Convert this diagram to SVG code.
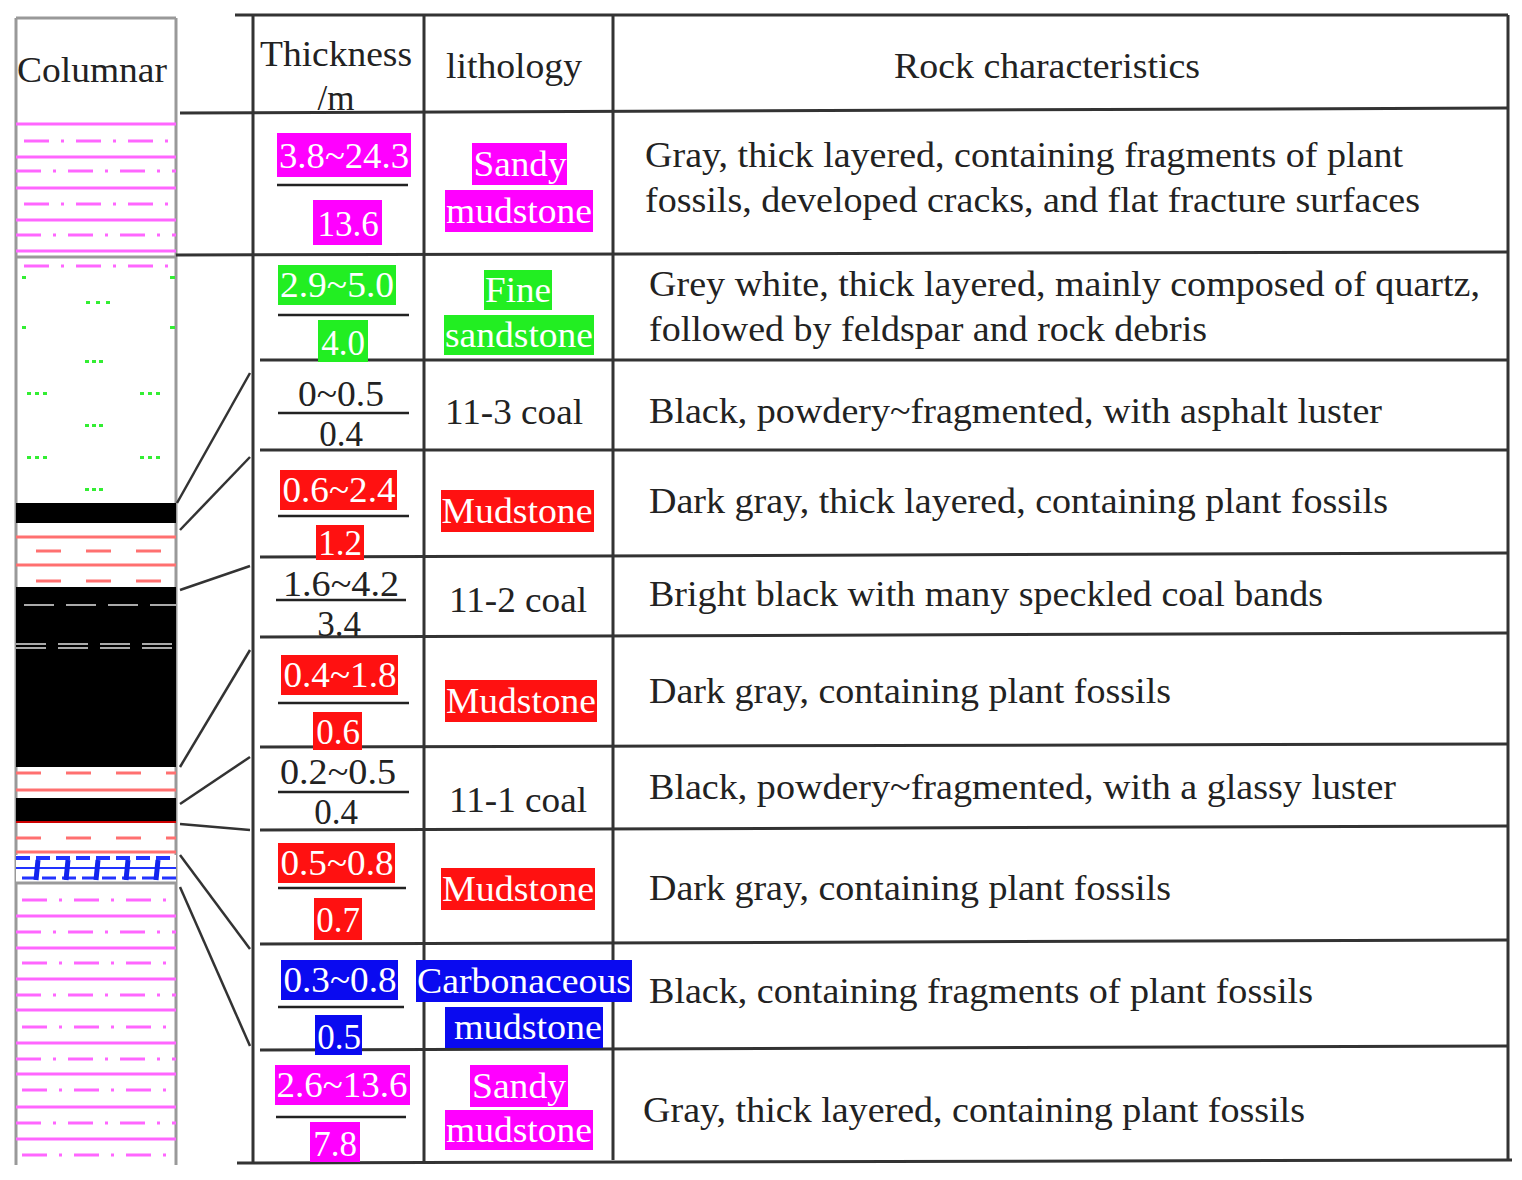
<svg xmlns="http://www.w3.org/2000/svg" width="1522" height="1180" viewBox="0 0 1522 1180">
<style>
text{font-family:"Liberation Serif","DejaVu Serif",serif;font-size:35px;fill:#222}
.w{fill:#fff}
.c{text-anchor:middle}
.g{stroke:#333;stroke-width:3;fill:none}
.lg{stroke:#999;stroke-width:3;fill:none}
.fr{stroke:#222;stroke-width:2.5}
.pk{stroke:#ff66ff;stroke-width:3}
.pkd{stroke:#ff66ff;stroke-width:3;stroke-dasharray:25 12 3 12}
.rd{stroke:#ff7070;stroke-width:3}
.rdd{stroke:#ff7070;stroke-width:3;stroke-dasharray:25 25}
.gd{stroke:#aaa;stroke-width:2;stroke-dasharray:30 12}
.gr{fill:#33ee33}
.cn{stroke:#333;stroke-width:2.5;fill:none}
</style>
<rect width="1522" height="1180" fill="#fff"/>
<g id="frame">
<line class="g" x1="235" y1="15" x2="1508" y2="15"/>
<line class="g" x1="180" y1="113" x2="1508" y2="108"/>
<line class="g" x1="237" y1="1163" x2="1512" y2="1160"/>
<line class="g" x1="1508" y1="15" x2="1508" y2="1160"/>
<line class="g" x1="253" y1="15" x2="253" y2="1163"/>
<line class="g" x1="424" y1="15" x2="424" y2="1163"/>
<line class="g" x1="613" y1="15" x2="613" y2="1160"/>
<line class="lg" x1="16" y1="18" x2="16" y2="1165"/>
<line class="lg" x1="176" y1="18" x2="176" y2="1165"/>
<line class="lg" x1="16" y1="18" x2="176" y2="18"/>
<line class="g" x1="176" y1="255" x2="1508" y2="252"/>
<line class="g" x1="260" y1="360" x2="1508" y2="360"/>
<line class="g" x1="260" y1="450" x2="1508" y2="450"/>
<line class="g" x1="260" y1="557" x2="1508" y2="553"/>
<line class="g" x1="260" y1="637" x2="1508" y2="633"/>
<line class="g" x1="260" y1="747" x2="1508" y2="744"/>
<line class="g" x1="260" y1="830" x2="1508" y2="826"/>
<line class="g" x1="260" y1="944" x2="1508" y2="940"/>
<line class="g" x1="260" y1="1050" x2="1508" y2="1046"/>
</g>
<g id="header">
<text x="92" y="82" class="c" textLength="150" lengthAdjust="spacingAndGlyphs">Columnar</text>
<text x="336" y="66" class="c" textLength="152" lengthAdjust="spacingAndGlyphs">Thickness</text>
<text x="336" y="110" class="c">/m</text>
<text x="514" y="78" class="c" textLength="136" lengthAdjust="spacingAndGlyphs">lithology</text>
<text x="1047" y="78" class="c" textLength="306" lengthAdjust="spacingAndGlyphs">Rock characteristics</text>
</g>
<g id="columnar">
<line class="pk" x1="16" y1="124" x2="176" y2="124"/>
<line class="pkd" x1="24" y1="141" x2="176" y2="141"/>
<line class="pk" x1="16" y1="157" x2="176" y2="157"/>
<line class="pkd" x1="16" y1="171" x2="176" y2="171"/>
<line class="pk" x1="16" y1="188" x2="176" y2="188"/>
<line class="pkd" x1="24" y1="204" x2="176" y2="204"/>
<line class="pk" x1="16" y1="220" x2="176" y2="220"/>
<line class="pkd" x1="16" y1="235" x2="176" y2="235"/>
<line class="pk" x1="16" y1="251" x2="176" y2="251"/>
<line class="lg" x1="16" y1="257" x2="176" y2="257"/>
<line class="pkd" x1="24" y1="266" x2="176" y2="266"/>
<g class="gr">
<rect x="22" y="276" width="4" height="3"/><rect x="170" y="276" width="5" height="3"/>
<rect x="86" y="301" width="4" height="3"/><rect x="96" y="301" width="4" height="3"/><rect x="106" y="301" width="4" height="3"/>
<rect x="22" y="326" width="4" height="3"/><rect x="170" y="326" width="5" height="3"/>
<rect x="85" y="360" width="4" height="3"/><rect x="92" y="360" width="4" height="3"/><rect x="99" y="360" width="4" height="3"/>
<rect x="27" y="392" width="4" height="3"/><rect x="35" y="392" width="4" height="3"/><rect x="43" y="392" width="4" height="3"/>
<rect x="140" y="392" width="4" height="3"/><rect x="148" y="392" width="4" height="3"/><rect x="156" y="392" width="4" height="3"/>
<rect x="85" y="424" width="4" height="3"/><rect x="92" y="424" width="4" height="3"/><rect x="99" y="424" width="4" height="3"/>
<rect x="27" y="456" width="4" height="3"/><rect x="35" y="456" width="4" height="3"/><rect x="43" y="456" width="4" height="3"/>
<rect x="140" y="456" width="4" height="3"/><rect x="148" y="456" width="4" height="3"/><rect x="156" y="456" width="4" height="3"/>
<rect x="85" y="488" width="4" height="3"/><rect x="92" y="488" width="4" height="3"/><rect x="99" y="488" width="4" height="3"/>
</g>
<rect x="16" y="503" width="160" height="20" fill="#000"/>
<line class="rd" x1="16" y1="537" x2="176" y2="537"/>
<line class="rdd" x1="36" y1="551" x2="176" y2="551"/>
<line class="rd" x1="16" y1="565" x2="176" y2="565"/>
<line class="rdd" x1="36" y1="581" x2="176" y2="581"/>
<rect x="16" y="587" width="160" height="180" fill="#000"/>
<line class="gd" x1="24" y1="605" x2="176" y2="605"/>
<line class="gd" x1="16" y1="644" x2="176" y2="644"/>
<line class="gd" x1="16" y1="648" x2="176" y2="648"/>
<line class="rdd" x1="16" y1="773" x2="176" y2="773"/>
<line class="rd" x1="16" y1="790" x2="176" y2="790"/>
<rect x="16" y="798" width="160" height="23" fill="#000"/>
<line stroke="#c00" stroke-width="2" x1="16" y1="822" x2="176" y2="822"/>
<line class="rdd" x1="16" y1="838" x2="176" y2="838"/>
<line class="rd" x1="16" y1="852" x2="176" y2="852"/>
<rect x="16" y="855" width="160" height="28" fill="#fff"/>
<line stroke="#2233ff" stroke-width="4" stroke-dasharray="14 6" x1="16" y1="858" x2="176" y2="858"/>
<line stroke="#2233ff" stroke-width="2" x1="16" y1="868" x2="176" y2="868"/>
<line stroke="#2233ff" stroke-width="3" stroke-dasharray="14 6" x1="22" y1="878" x2="176" y2="878"/>
<g stroke="#1122ee" stroke-width="5">
<line x1="38" y1="860" x2="36" y2="880"/><line x1="68" y1="860" x2="66" y2="880"/><line x1="98" y1="860" x2="96" y2="880"/><line x1="128" y1="860" x2="126" y2="880"/><line x1="158" y1="860" x2="156" y2="880"/>
</g>
<line class="lg" x1="16" y1="883" x2="176" y2="883"/>
<line class="pkd" x1="22" y1="900" x2="176" y2="900"/>
<line class="pk" x1="16" y1="916" x2="176" y2="916"/>
<line class="pkd" x1="16" y1="932" x2="176" y2="932"/>
<line class="pk" x1="16" y1="948" x2="176" y2="948"/>
<line class="pkd" x1="22" y1="963" x2="176" y2="963"/>
<line class="pk" x1="16" y1="979" x2="176" y2="979"/>
<line class="pkd" x1="16" y1="995" x2="176" y2="995"/>
<line class="pk" x1="16" y1="1010" x2="176" y2="1010"/>
<line class="pkd" x1="22" y1="1027" x2="176" y2="1027"/>
<line class="pk" x1="16" y1="1043" x2="176" y2="1043"/>
<line class="pkd" x1="16" y1="1059" x2="176" y2="1059"/>
<line class="pk" x1="16" y1="1074" x2="176" y2="1074"/>
<line class="pkd" x1="22" y1="1090" x2="176" y2="1090"/>
<line class="pk" x1="16" y1="1107" x2="176" y2="1107"/>
<line class="pkd" x1="16" y1="1123" x2="176" y2="1123"/>
<line class="pk" x1="16" y1="1139" x2="176" y2="1139"/>
<line class="pkd" x1="22" y1="1155" x2="176" y2="1155"/>
</g>
<g id="connectors">
<line class="cn" x1="177" y1="503" x2="250" y2="373"/>
<line class="cn" x1="180" y1="530" x2="250" y2="457"/>
<line class="cn" x1="180" y1="590" x2="250" y2="566"/>
<line class="cn" x1="180" y1="767" x2="250" y2="650"/>
<line class="cn" x1="180" y1="804" x2="250" y2="757"/>
<line class="cn" x1="180" y1="824" x2="250" y2="830"/>
<line class="cn" x1="180" y1="855" x2="250" y2="949"/>
<line class="cn" x1="180" y1="887" x2="250" y2="1046"/>
</g>
<g id="thickness">
<rect x="277" y="133" width="134" height="44" fill="#ff00ff"/><text x="344" y="168" class="c w" textLength="130" lengthAdjust="spacingAndGlyphs">3.8~24.3</text>
<line class="fr" x1="277" y1="185" x2="408" y2="185"/>
<rect x="313" y="200" width="69" height="45" fill="#ff00ff"/><text x="348" y="236" class="c w">13.6</text>
<rect x="278" y="265" width="118" height="40" fill="#22ee22"/><text x="337" y="297" class="c w" textLength="114" lengthAdjust="spacingAndGlyphs">2.9~5.0</text>
<line class="fr" x1="278" y1="315" x2="409" y2="315"/>
<rect x="318" y="320" width="50" height="42" fill="#22ee22"/><text x="343" y="355" class="c w">4.0</text>
<text x="341" y="406" class="c" textLength="86" lengthAdjust="spacingAndGlyphs">0~0.5</text>
<line class="fr" x1="278" y1="413" x2="409" y2="413"/>
<text x="341" y="446" class="c">0.4</text>
<rect x="280" y="470" width="117" height="40" fill="#ff1111"/><text x="339" y="502" class="c w" textLength="113" lengthAdjust="spacingAndGlyphs">0.6~2.4</text>
<line class="fr" x1="278" y1="516" x2="409" y2="516"/>
<rect x="316" y="525" width="48" height="35" fill="#ff1111"/><text x="340" y="555" class="c w">1.2</text>
<text x="341" y="596" class="c" textLength="116" lengthAdjust="spacingAndGlyphs">1.6~4.2</text>
<line class="fr" x1="276" y1="600" x2="406" y2="600"/>
<text x="339" y="636" class="c">3.4</text>
<rect x="281" y="655" width="117" height="40" fill="#ff1111"/><text x="340" y="687" class="c w" textLength="113" lengthAdjust="spacingAndGlyphs">0.4~1.8</text>
<line class="fr" x1="278" y1="703" x2="409" y2="703"/>
<rect x="313" y="712" width="49" height="38" fill="#ff1111"/><text x="338" y="744" class="c w">0.6</text>
<text x="338" y="784" class="c" textLength="116" lengthAdjust="spacingAndGlyphs">0.2~0.5</text>
<line class="fr" x1="278" y1="792" x2="409" y2="792"/>
<text x="336" y="824" class="c">0.4</text>
<rect x="278" y="843" width="117" height="40" fill="#ff1111"/><text x="337" y="875" class="c w" textLength="113" lengthAdjust="spacingAndGlyphs">0.5~0.8</text>
<line class="fr" x1="278" y1="888" x2="406" y2="888"/>
<rect x="314" y="898" width="48" height="42" fill="#ff1111"/><text x="338" y="932" class="c w">0.7</text>
<rect x="281" y="960" width="117" height="40" fill="#0a0af0"/><text x="340" y="992" class="c w" textLength="113" lengthAdjust="spacingAndGlyphs">0.3~0.8</text>
<line class="fr" x1="278" y1="1007" x2="404" y2="1007"/>
<rect x="315" y="1015" width="47" height="40" fill="#0a0af0"/><text x="339" y="1049" class="c w">0.5</text>
<rect x="275" y="1065" width="135" height="40" fill="#ff00ff"/><text x="342" y="1097" class="c w" textLength="131" lengthAdjust="spacingAndGlyphs">2.6~13.6</text>
<line class="fr" x1="276" y1="1117" x2="406" y2="1117"/>
<rect x="310" y="1122" width="50" height="40" fill="#ff00ff"/><text x="335" y="1156" class="c w">7.8</text>
</g>
<g id="lithology">
<rect x="472" y="143" width="95" height="42" fill="#ff00ff"/><text x="520" y="176" class="c w" textLength="93" lengthAdjust="spacingAndGlyphs">Sandy</text>
<rect x="445" y="190" width="148" height="42" fill="#ff00ff"/><text x="519" y="223" class="c w" textLength="146" lengthAdjust="spacingAndGlyphs">mudstone</text>
<rect x="484" y="270" width="68" height="40" fill="#22ee22"/><text x="518" y="302" class="c w" textLength="66" lengthAdjust="spacingAndGlyphs">Fine</text>
<rect x="444" y="315" width="150" height="40" fill="#22ee22"/><text x="519" y="347" class="c w" textLength="148" lengthAdjust="spacingAndGlyphs">sandstone</text>
<text x="514" y="424" class="c" textLength="138" lengthAdjust="spacingAndGlyphs">11-3 coal</text>
<rect x="441" y="490" width="153" height="42" fill="#ff1111"/><text x="517" y="523" class="c w" textLength="151" lengthAdjust="spacingAndGlyphs">Mudstone</text>
<text x="518" y="612" class="c" textLength="138" lengthAdjust="spacingAndGlyphs">11-2 coal</text>
<rect x="445" y="680" width="152" height="42" fill="#ff1111"/><text x="521" y="713" class="c w" textLength="150" lengthAdjust="spacingAndGlyphs">Mudstone</text>
<text x="518" y="812" class="c" textLength="138" lengthAdjust="spacingAndGlyphs">11-1 coal</text>
<rect x="441" y="868" width="154" height="42" fill="#ff1111"/><text x="518" y="901" class="c w" textLength="152" lengthAdjust="spacingAndGlyphs">Mudstone</text>
<rect x="416" y="960" width="216" height="42" fill="#0a0af0"/><text x="524" y="993" class="c w" textLength="214" lengthAdjust="spacingAndGlyphs">Carbonaceous</text>
<rect x="445" y="1007" width="158" height="41" fill="#0a0af0"/><text x="528" y="1039" class="c w" textLength="148" lengthAdjust="spacingAndGlyphs">mudstone</text>
<rect x="470" y="1065" width="98" height="42" fill="#ff00ff"/><text x="519" y="1098" class="c w" textLength="94" lengthAdjust="spacingAndGlyphs">Sandy</text>
<rect x="445" y="1110" width="148" height="40" fill="#ff00ff"/><text x="519" y="1142" class="c w" textLength="146" lengthAdjust="spacingAndGlyphs">mudstone</text>
</g>
<g id="rock">
<text x="645" y="167" textLength="758" lengthAdjust="spacingAndGlyphs">Gray, thick layered, containing fragments of plant</text>
<text x="645" y="212" textLength="775" lengthAdjust="spacingAndGlyphs">fossils, developed cracks, and flat fracture surfaces</text>
<text x="649" y="296" textLength="831" lengthAdjust="spacingAndGlyphs">Grey white, thick layered, mainly composed of quartz,</text>
<text x="649" y="341" textLength="558" lengthAdjust="spacingAndGlyphs">followed by feldspar and rock debris</text>
<text x="649" y="423" textLength="733" lengthAdjust="spacingAndGlyphs">Black, powdery~fragmented, with asphalt luster</text>
<text x="649" y="513" textLength="739" lengthAdjust="spacingAndGlyphs">Dark gray, thick layered, containing plant fossils</text>
<text x="649" y="606" textLength="674" lengthAdjust="spacingAndGlyphs">Bright black with many speckled coal bands</text>
<text x="649" y="703" textLength="522" lengthAdjust="spacingAndGlyphs">Dark gray, containing plant fossils</text>
<text x="649" y="799" textLength="747" lengthAdjust="spacingAndGlyphs">Black, powdery~fragmented, with a glassy luster</text>
<text x="649" y="900" textLength="522" lengthAdjust="spacingAndGlyphs">Dark gray, containing plant fossils</text>
<text x="649" y="1003" textLength="664" lengthAdjust="spacingAndGlyphs">Black, containing fragments of plant fossils</text>
<text x="643" y="1122" textLength="662" lengthAdjust="spacingAndGlyphs">Gray, thick layered, containing plant fossils</text>
</g>
</svg>
